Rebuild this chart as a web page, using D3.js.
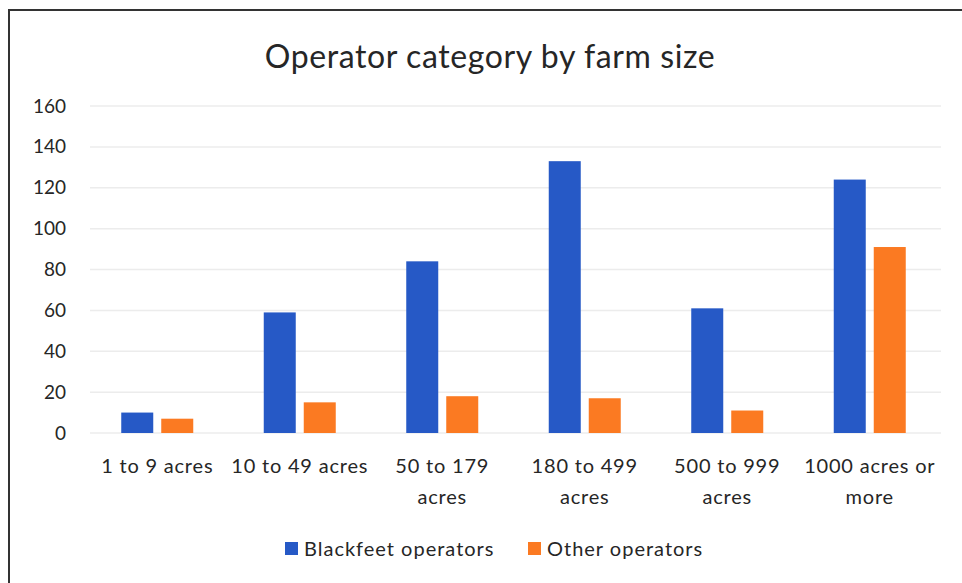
<!DOCTYPE html>
<html>
<head>
<meta charset="utf-8">
<script src="https://cdn.jsdelivr.net/npm/d3@7"></script>
<style>
  body { margin: 0; background: #fff; }
  svg text { font-family: Lato, "Open Sans", sans-serif; fill: #262626; }
</style>
</head>
<body>
<div class="canvas"></div>
<script>
const categories = [
  ['1 to 9 acres'],
  ['10 to 49 acres'],
  ['50 to 179', 'acres'],
  ['180 to 499', 'acres'],
  ['500 to 999', 'acres'],
  ['1000 acres or', 'more']
];
const blackfeet = [10, 59, 84, 133, 61, 124];
const other = [7, 15, 18, 17, 11, 91];
const seriesNames = ['Blackfeet operators', 'Other operators'];
const yTicks = [0, 20, 40, 60, 80, 100, 120, 140, 160];

const dims = { width: 962, height: 583 };
const plot = { left: 86, right: 941, top: 106, bottom: 433 };
const colors = ['#2659c6', '#fb7a22'];

const svg = d3.select('.canvas')
  .append('svg')
    .attr('width', dims.width)
    .attr('height', dims.height)

// scanned frame
svg.append('line')
  .attr('x1', 8).attr('x2', 962).attr('y1', 10).attr('y2', 10)
  .attr('stroke', '#333').attr('stroke-width', 2)
svg.append('line')
  .attr('x1', 9).attr('x2', 9).attr('y1', 10).attr('y2', 583)
  .attr('stroke', '#333').attr('stroke-width', 2)

svg.append('text')
  .attr('x', 490)
  .attr('y', 68)
  .attr('text-anchor', 'middle')
  .attr('font-size', 32)
  .attr('letter-spacing', 0.6)
  .text('Operator category by farm size')

const x = d3.scaleBand()
  .domain(d3.range(categories.length))
  .range([plot.left, plot.right])

const y = d3.scaleLinear()
  .domain([0, 160])
  .range([plot.bottom, plot.top])

// gridlines
svg.append('g')
  .selectAll('line')
  .data(yTicks)
  .enter()
  .append('line')
    .attr('x1', plot.left + 4)
    .attr('x2', plot.right)
    .attr('y1', d => y(d))
    .attr('y2', d => y(d))
    .attr('stroke', '#ececec')
    .attr('stroke-width', 1.5)

const yAxis = d3.axisLeft(y)
  .tickValues(yTicks)
  .tickSize(0)
  .tickPadding(0)

const yG = svg.append('g')
  .attr('transform', 'translate(66, 0)')
  .call(yAxis)
yG.select('.domain').remove()
yG.selectAll('text')
  .attr('font-size', 19)
  .style('font-family', 'Lato, "Open Sans", sans-serif')
  .attr('fill', '#262626')

const barW = 32;
const gap = 8;
const series = [blackfeet, other];

series.forEach((vals, s) => {
  svg.append('g')
    .selectAll('rect')
    .data(vals)
    .enter()
    .append('rect')
      .attr('x', (d, i) => x(i) + x.bandwidth() / 2 + (s === 0 ? -(barW + gap / 2) : gap / 2))
      .attr('y', d => y(d))
      .attr('width', barW)
      .attr('height', d => y(0) - y(d))
      .attr('fill', colors[s])
})

// category labels
const catG = svg.append('g')
categories.forEach((lines, i) => {
  const t = catG.append('text')
    .attr('text-anchor', 'middle')
    .attr('font-size', 20)
    .attr('letter-spacing', 0.8)
  lines.forEach((ln, k) => {
    t.append('tspan')
      .attr('x', x(i) + x.bandwidth() / 2)
      .attr('y', 473 + k * 31)
      .text(ln)
  })
})

// legend
const legend = [
  { name: seriesNames[0], color: colors[0], x: 285 },
  { name: seriesNames[1], color: colors[1], x: 528 }
];
legend.forEach(l => {
  svg.append('rect')
    .attr('x', l.x).attr('y', 542)
    .attr('width', 13).attr('height', 13)
    .attr('fill', l.color)
  svg.append('text')
    .attr('x', l.x + 19)
    .attr('y', 556)
    .attr('font-size', 20)
    .attr('letter-spacing', 1)
    .text(l.name)
})
</script>
</body>
</html>
